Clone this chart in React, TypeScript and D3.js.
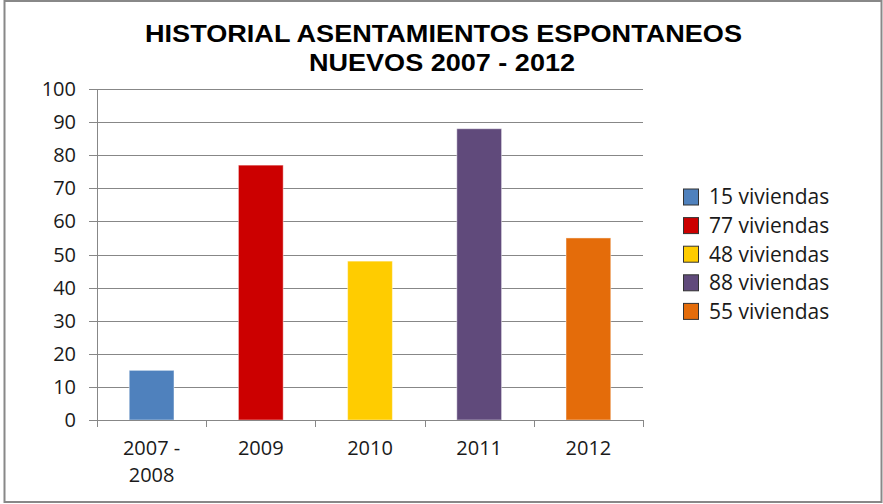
import React from "react";
import * as d3 from "d3";

const categories = ["2007 - 2008", "2009", "2010", "2011", "2012"];
const values = [15, 77, 48, 88, 55];
const legendLabels = ["15 viviendas", "77 viviendas", "48 viviendas", "88 viviendas", "55 viviendas"];
const colors = ["#4F81BD", "#CC0000", "#FFCC00", "#604A7B", "#E46C0A"];
const yTicks = [0, 10, 20, 30, 40, 50, 60, 70, 80, 90, 100];
const titleLines = ["HISTORIAL ASENTAMIENTOS ESPONTANEOS", "NUEVOS 2007 - 2012"];

const W = 883;
const H = 504;
const plot = { left: 97, right: 643, top: 89, bottom: 420 };
const FONT = "'Open Sans', 'Liberation Sans', sans-serif";

export default function App() {
  const x = d3
    .scaleBand<string>()
    .domain(categories)
    .range([plot.left, plot.right])
    .paddingInner(0.59)
    .paddingOuter(0.295);
  const y = d3.scaleLinear().domain([0, 100]).range([plot.bottom, plot.top]);
  const step = x.step();
  const gridColor = "#878787";

  return (
    <svg
      width={W}
      height={H}
      style={{ position: "absolute", left: 0, top: 0, background: "#fff" }}
    >
      <rect x={0} y={0} width={W} height={H} fill="#fff" />
      <rect x={4.5} y={1} width={877} height={501} fill="none" stroke="#888" strokeWidth={2} />

      {/* title */}
      <text
        x={443.5}
        y={42}
        textAnchor="middle"
        fontFamily="'Liberation Sans', Arial, sans-serif"
        fontWeight="bold"
        fontSize={24}
        textLength={597}
        lengthAdjust="spacingAndGlyphs"
        fill="#000"
      >
        {titleLines[0]}
      </text>
      <text
        x={442}
        y={71}
        textAnchor="middle"
        fontFamily="'Liberation Sans', Arial, sans-serif"
        fontWeight="bold"
        fontSize={24}
        textLength={266}
        lengthAdjust="spacingAndGlyphs"
        fill="#000"
      >
        {titleLines[1]}
      </text>

      {/* gridlines and y ticks */}
      {yTicks.map((t) => (
        <g key={t}>
          <line
            x1={plot.left - 8}
            x2={plot.right}
            y1={Math.round(y(t)) + 0.5}
            y2={Math.round(y(t)) + 0.5}
            stroke={gridColor}
            strokeWidth={1}
          />
          <text
            x={76}
            y={y(t)}
            dy="0.35em"
            textAnchor="end"
            fontFamily={FONT}
            fontSize={20}
            fill="#1a1a1a"
          >
            {t}
          </text>
        </g>
      ))}

      {/* y axis */}
      <line x1={plot.left + 0.5} x2={plot.left + 0.5} y1={plot.top} y2={plot.bottom} stroke={gridColor} />

      {/* bars */}
      {categories.map((c, i) => (
        <rect
          key={c}
          x={x(c)!}
          y={y(values[i])}
          width={x.bandwidth()}
          height={y(0) - y(values[i])}
          fill={colors[i]}
          stroke="rgba(255,255,255,0.45)"
          strokeWidth={1}
        />
      ))}

      {/* x axis */}
      <line
        x1={plot.left}
        x2={plot.right}
        y1={plot.bottom + 0.5}
        y2={plot.bottom + 0.5}
        stroke={gridColor}
      />
      {d3.range(categories.length + 1).map((i) => {
        const tx = Math.round(plot.left + i * step) + 0.5;
        return (
          <line key={i} x1={tx} x2={tx} y1={plot.bottom} y2={plot.bottom + 7} stroke={gridColor} />
        );
      })}
      {categories.map((c) => {
        const cx = x(c)! + x.bandwidth() / 2;
        const parts = c.includes(" - ") ? [c.split(" - ")[0] + " -", c.split(" - ")[1]] : [c];
        return (
          <text
            key={c}
            x={cx}
            y={455}
            textAnchor="middle"
            fontFamily={FONT}
            fontSize={20}
            fill="#1a1a1a"
          >
            {parts.map((p, j) => (
              <tspan key={j} x={cx} dy={j === 0 ? 0 : 27}>
                {p}
              </tspan>
            ))}
          </text>
        );
      })}

      {/* legend */}
      {legendLabels.map((l, i) => {
        const cy = 197 + i * 28.6;
        return (
          <g key={l}>
            <rect
              x={683.5}
              y={cy - 8}
              width={15}
              height={16}
              fill={colors[i]}
              stroke="#333"
              strokeWidth={1}
            />
            <text
              x={709}
              y={cy}
              dy="0.35em"
              fontFamily={FONT}
              fontSize={21}
              fill="#1a1a1a"
            >
              {l}
            </text>
          </g>
        );
      })}
    </svg>
  );
}
